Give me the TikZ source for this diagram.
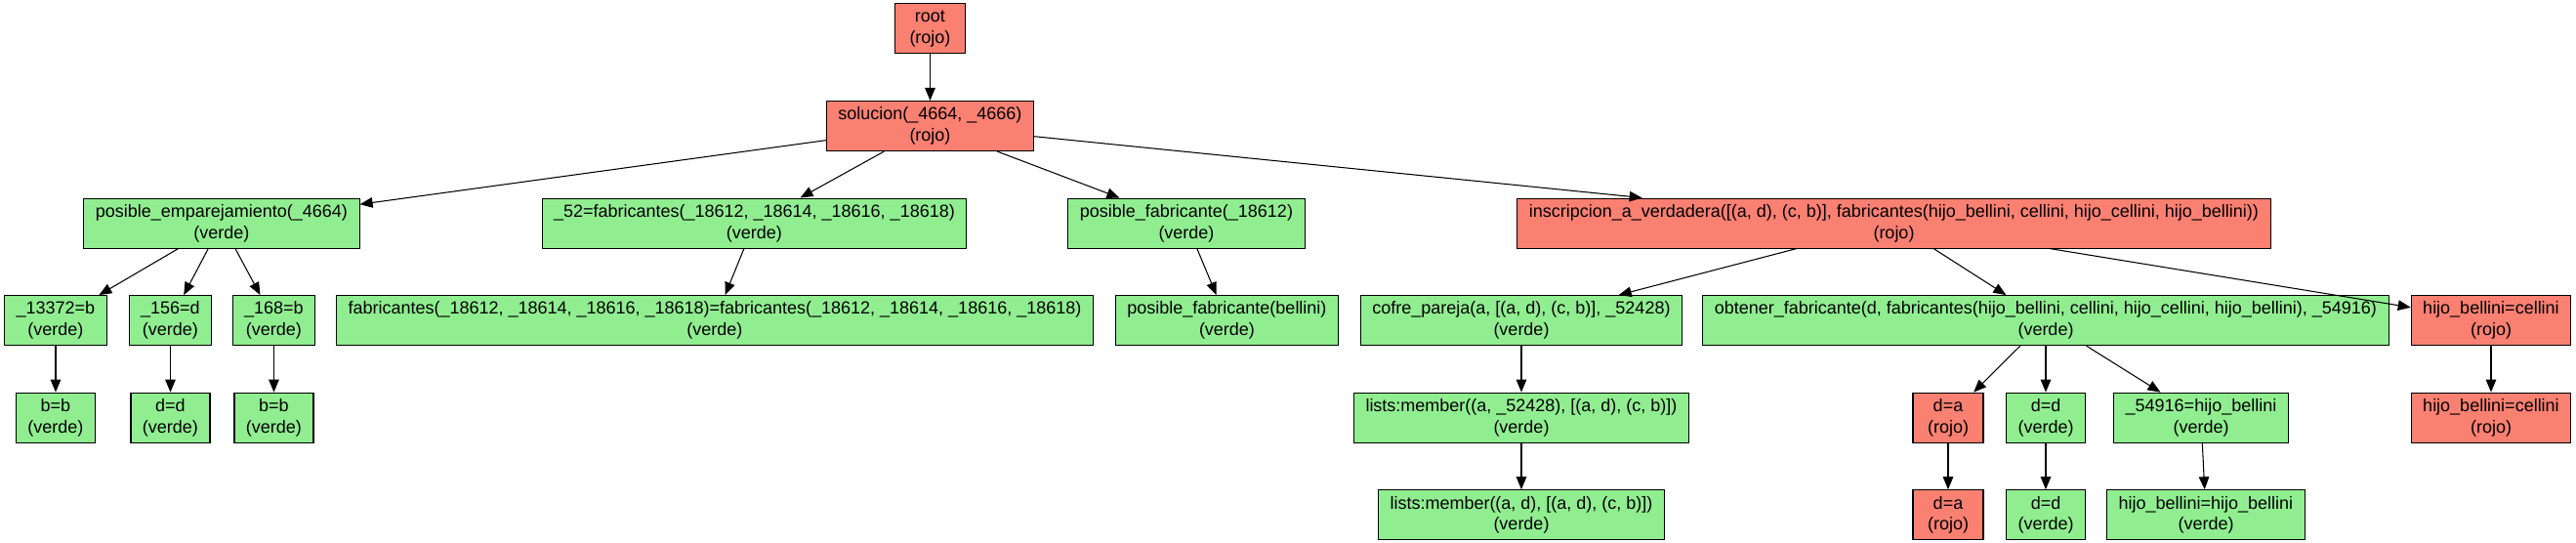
\documentclass[tikz,border=0pt]{standalone}
\usepackage{fontspec}
\setmainfont{Liberation Sans}
\usetikzlibrary{shapes,arrows.meta,positioning,calc}
\definecolor{rojo}{RGB}{250,128,114}
\definecolor{verde}{RGB}{144,238,144}

\begin{document}
\begin{tikzpicture}[
  node distance=0.95cm,
  block/.style={rectangle, draw, line width=0.6pt, align=center, inner xsep=0.24cm, inner ysep=0pt, minimum width=1.44cm, minimum height=1.02cm, font=\fontsize{10.24pt}{12.29pt}\selectfont},
  rojoblock/.style={block, fill=rojo},
  verdeblock/.style={block, fill=verde},
  arrow/.style={-{Triangle[length=0.26cm, width=0.21cm]}, line width=0.6pt}
]
  \useasboundingbox (-19.05,-8.52) rectangle (33.71,2.58);

  \node[rojoblock] (sol) {solucion(\_4664, \_4666)\\(rojo)};
  \node[rojoblock, above=of sol] (root) {root\\(rojo)};

  \node[verdeblock, below=of sol, xshift=-14.51cm] (emp) {posible\_emparejamiento(\_4664)\\(verde)};
  \node[verdeblock, below=of sol, xshift=-3.6cm] (fab52) {\_52=fabricantes(\_18612, \_18614, \_18616, \_18618)\\(verde)};
  \node[verdeblock, below=of sol, xshift=5.25cm] (posfab) {posible\_fabricante(\_18612)\\(verde)};
  \node[rojoblock, below=of sol, xshift=19.74cm] (inscr) {inscripcion\_a\_verdadera([(a, d), (c, b)], fabricantes(hijo\_bellini, cellini, hijo\_cellini, hijo\_bellini))\\(rojo)};

  \node[verdeblock, below=of emp, xshift=-3.4cm] (u13372) {\_13372=b\\(verde)};
  \node[verdeblock, below=of emp, xshift=-1.05cm] (u156) {\_156=d\\(verde)};
  \node[verdeblock, below=of emp, xshift=1.07cm] (u168) {\_168=b\\(verde)};
  \node[verdeblock, below=of fab52, xshift=-0.81cm] (fabeq) {fabricantes(\_18612, \_18614, \_18616, \_18618)=fabricantes(\_18612, \_18614, \_18616, \_18618)\\(verde)};
  \node[verdeblock, below=of posfab, xshift=0.83cm] (posbel) {posible\_fabricante(bellini)\\(verde)};
  \node[verdeblock, below=of inscr, xshift=-7.63cm] (cofre) {cofre\_pareja(a, [(a, d), (c, b)], \_52428)\\(verde)};
  \node[verdeblock, below=of inscr, xshift=3.11cm] (obtener) {obtener\_fabricante(d, fabricantes(hijo\_bellini, cellini, hijo\_cellini, hijo\_bellini), \_54916)\\(verde)};
  \node[rojoblock, below=of inscr, xshift=12.23cm] (hbc) {hijo\_bellini=cellini\\(rojo)};

  \node[verdeblock, below=of u13372] (bb1) {b=b\\(verde)};
  \node[verdeblock, below=of u156] (dd1) {d=d\\(verde)};
  \node[verdeblock, below=of u168] (bb2) {b=b\\(verde)};
  \node[verdeblock, below=of cofre] (member1) {lists:member((a, \_52428), [(a, d), (c, b)])\\(verde)};
  \node[rojoblock, below=of obtener, xshift=-2cm] (da1) {d=a\\(rojo)};
  \node[verdeblock, below=of obtener] (dd2) {d=d\\(verde)};
  \node[verdeblock, below=of obtener, xshift=3.18cm] (u54916) {\_54916=hijo\_bellini\\(verde)};
  \node[rojoblock, below=of hbc] (hbc2) {hijo\_bellini=cellini\\(rojo)};

  \node[verdeblock, below=of member1] (member2) {lists:member((a, d), [(a, d), (c, b)])\\(verde)};
  \node[rojoblock, below=of da1] (da2) {d=a\\(rojo)};
  \node[verdeblock, below=of dd2] (dd3) {d=d\\(verde)};
  \node[verdeblock, below=of u54916, xshift=0.1cm] (hbhb) {hijo\_bellini=hijo\_bellini\\(verde)};

  \draw[arrow] (root) -- (sol);
  \draw[arrow] (sol) -- (emp);
  \draw[arrow] (sol) -- (fab52);
  \draw[arrow] (sol) -- (posfab);
  \draw[arrow] (sol) -- (inscr);
  \draw[arrow] (emp) -- (u13372);
  \draw[arrow] (emp) -- (u156);
  \draw[arrow] (emp) -- (u168);
  \draw[arrow] (fab52) -- (fabeq);
  \draw[arrow] (posfab) -- (posbel);
  \draw[arrow] (inscr) -- (cofre);
  \draw[arrow] (inscr) -- (obtener);
  \draw[arrow] (inscr) -- (hbc);
  \draw[arrow] (u13372) -- (bb1);
  \draw[arrow] (u156) -- (dd1);
  \draw[arrow] (u168) -- (bb2);
  \draw[arrow] (cofre) -- (member1);
  \draw[arrow] (obtener) -- (da1);
  \draw[arrow] (obtener) -- (dd2);
  \draw[arrow] (obtener) -- (u54916);
  \draw[arrow] (hbc) -- (hbc2);
  \draw[arrow] (member1) -- (member2);
  \draw[arrow] (da1) -- (da2);
  \draw[arrow] (dd2) -- (dd3);
  \draw[arrow] (u54916) -- (hbhb);
\end{tikzpicture}
\end{document}
